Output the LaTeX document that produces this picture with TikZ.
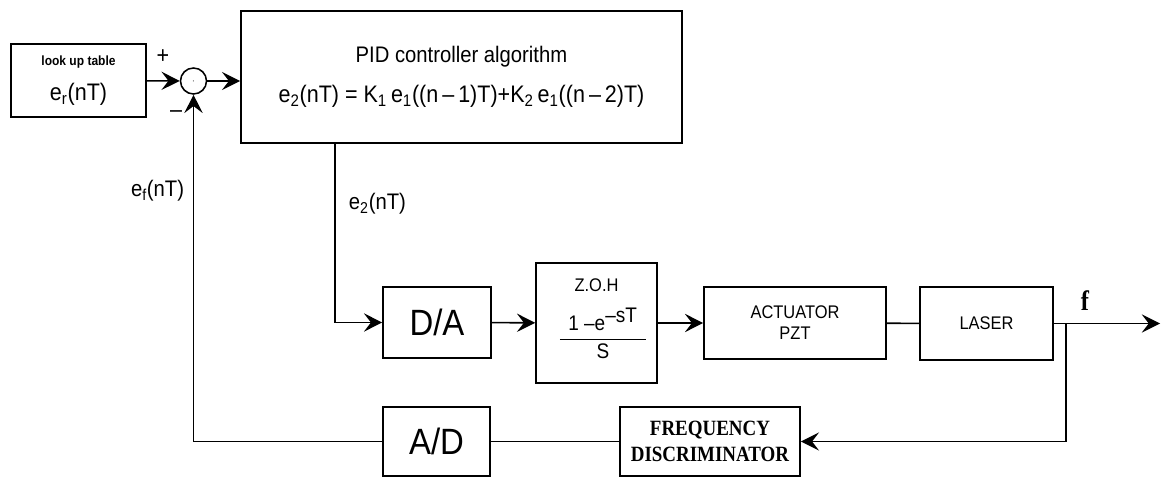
\documentclass[tikz,border=0pt]{standalone}
\usepackage{fontspec}
\setmainfont{Liberation Sans}
\newfontfamily\plotfont[Ligatures=TeX, FakeStretch=0.9]{Liberation Sans}
\newfontfamily\fdfont[Ligatures=TeX, FakeStretch=0.87]{Liberation Serif}
\usetikzlibrary{arrows.meta,positioning,calc}

\begin{document}
\begin{tikzpicture}[x=0.025cm, y=-0.025cm,
  every node/.style={font=\plotfont},
  block/.style={rectangle, draw, line width=1.1pt, inner sep=2pt, align=center},
  junction/.style={circle, draw, line width=1.1pt, minimum size=0.65cm, inner sep=0pt},
  arr/.style={-{Stealth[length=13pt, width=13pt, inset=5pt]}, line width=1.1pt},
  wire/.style={line width=1.1pt},
  sig/.style={font=\plotfont\fontsize{16}{18}\selectfont},
]
\useasboundingbox (0,0) rectangle (1161,477);

% forward path
\node[block, minimum width=3.375cm, minimum height=1.825cm] (lut) at (78.5,80.5)
  {{\bfseries\fontsize{9.5}{11}\selectfont look up table}\\[10pt]
   {\fontsize{17}{19}\selectfont e\textsubscript{r}(nT)}};
\node[junction] (sum) at (193.5,81) {\fontsize{6}{6}\selectfont$\cdot$};
\node[block, minimum width=11.025cm, minimum height=3.3cm] (pid) at (461.5,77)
  {{\fontsize{16}{18}\selectfont PID controller algorithm}\\[12pt]
   {\fontsize{17}{19}\selectfont e\textsubscript{2}(nT) = K\textsubscript{1}\,e\textsubscript{1}((n\,--\,1)T)+K\textsubscript{2}\,e\textsubscript{1}((n\,--\,2)T)}};
\node[block, minimum width=2.7cm, minimum height=1.775cm,
      font=\plotfont\fontsize{26}{28}\selectfont] (da) at (437,322.5) {D/A};
\node[block, minimum width=3.025cm, minimum height=3cm] (zoh) at (596.5,323) {};
\node[font=\plotfont\fontsize{13}{15}\selectfont] (zohname) at (596.5,285) {Z.O.H};
\node[font=\plotfont\fontsize{15}{17}\selectfont] (zohtf) at (603,333)
  {$\displaystyle\frac{\mbox{1 --e}^{\mbox{--sT}}}{\makebox[2.15cm]{S}}$};
\node[block, minimum width=4.55cm, minimum height=1.8cm,
      font=\plotfont\fontsize{13}{15}\selectfont] (act) at (795,323) {ACTUATOR\\PZT};
\node[block, minimum width=3.325cm, minimum height=1.825cm,
      font=\plotfont\fontsize{13}{15}\selectfont] (laser) at (986.5,323.5) {LASER};

% feedback path
\node[block, minimum width=2.675cm, minimum height=1.725cm,
      font=\plotfont\fontsize{26}{28}\selectfont] (ad) at (436.5,441.5) {A/D};
\node[block, minimum width=4.5cm, minimum height=1.725cm,
      font=\fdfont\bfseries\fontsize{15.5}{18}\selectfont] (fd) at (710,441.5)
  {FREQUENCY\\DISCRIMINATOR};

\coordinate (tap) at (1066,323.5);
\coordinate (out) at (1160,323.5);

% labels
\node[font=\plotfont\fontsize{17}{17}\selectfont] (plus) at (163,57) {+};
\node[font=\plotfont\fontsize{17}{17}\selectfont] (minus) at (176,114) {--};
\node[sig, anchor=east] (ef) at (189,191) {e\textsubscript{f}(nT)};
\node[sig, anchor=west] (es) at (344,204) {e\textsubscript{2}(nT)};
\node[font=\fdfont\bfseries\fontsize{20}{22}\selectfont] (flabel) at (1085,301) {f};

\draw[arr] (lut) -- (sum);
\draw[arr] (sum) -- (sum -| pid.west);
\draw[arr] ([xshift=2.375cm]pid.south west) |- (da);
\draw[arr] (da) -- (zoh);
\draw[arr] (zoh) -- (act);
\draw[wire] (act) -- (laser);
\draw[arr] (laser) -- (out);
\draw[arr] (tap) |- (fd);
\draw[wire] (fd) -- (ad);
\draw[arr] (ad) -| (sum);
\end{tikzpicture}
\end{document}
